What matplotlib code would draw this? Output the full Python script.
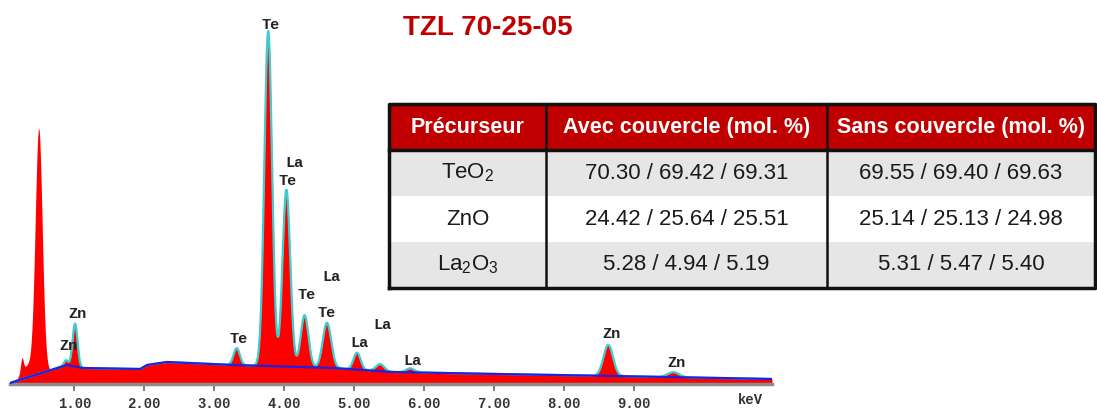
import numpy as np
import matplotlib
matplotlib.use('Agg')
import matplotlib.pyplot as plt
from matplotlib import font_manager

# continuum under the spectrum, vertices (keV, counts)
bg_kev = [0.08, 0.89, 1.12, 1.94, 2.04, 2.32, 3.27, 4.70, 5.54, 7.04, 8.70, 10.97]
bg_counts = [1, 19, 16, 15, 19, 22, 19, 16, 12, 10, 8, 5]

# emission lines: centre (keV), height above continuum (counts), width (keV)
peak_kev = [0.25, 0.33, 0.49, 0.88, 1.01, 3.32, 3.77, 4.03, 4.29, 4.61,
            5.04, 5.37, 5.80, 8.63, 9.56]
peak_counts = [14, 12, 244, 5, 43, 17, 335, 177, 52, 45, 17, 7, 4, 31, 5]
peak_sigma = [0.02, 0.08, 0.05, 0.03, 0.035, 0.045, 0.055, 0.055, 0.055, 0.06,
              0.05, 0.06, 0.06, 0.068, 0.08]
# lines covered by the fit (cyan curve)
peak_fitted = [False, False, False, True, True, True, True, True, True, True,
               True, True, True, True, True]

# element labels above the lines
label_text = ['Te', 'La', 'Te', 'La', 'Te', 'Te', 'Zn', 'Zn', 'Te', 'La', 'La', 'La', 'Zn', 'Zn']
label_kev = [3.80, 4.15, 4.05, 4.68, 4.32, 4.61, 1.04, 0.91, 3.35, 5.07, 5.40, 5.83, 8.67, 9.60]
label_counts = [359, 221, 203, 107, 89, 71, 70, 38, 45, 41, 59, 23, 50, 21]

tick_kev = [1, 2, 3, 4, 5, 6, 7, 8, 9]

# composition table
header = ['Précurseur', 'Avec couvercle (mol. %)', 'Sans couvercle (mol. %)']
precursors = ['TeO$_2$', 'ZnO', 'La$_2$O$_3$']
avec = ['70.30 / 69.42 / 69.31', '24.42 / 25.64 / 25.51', '5.28 / 4.94 / 5.19']
sans = ['69.55 / 69.40 / 69.63', '25.14 / 25.13 / 24.98', '5.31 / 5.47 / 5.40']
col_px = [157, 281, 268]

title = 'TZL 70-25-05'

installed = {f.name for f in font_manager.fontManager.ttflist}
if 'Liberation Sans Narrow' in installed:
    title_family, title_size = 'Liberation Sans Narrow', 23.5
else:
    title_family, title_size = 'Liberation Sans', 20
mono = ['Liberation Mono', 'DejaVu Sans Mono']
plt.rcParams['mathtext.default'] = 'regular'

W, H = 1097, 412
fig = plt.figure(figsize=(W / 100, H / 100), dpi=100)

# ---- spectrum ----
ax = fig.add_axes([10 / W, 28 / H, 762 / W, 384 / H])
x = np.linspace(0.08, 10.97, 3000)
cont = np.interp(x, bg_kev, bg_counts)
meas = cont.copy()
fit = cont.copy()
for c, a, s, f in zip(peak_kev, peak_counts, peak_sigma, peak_fitted):
    g = a * np.exp(-0.5 * ((x - c) / s) ** 2)
    meas += g
    if f:
        fit += g

ax.fill_between(x, 0, meas, color='#ff0000', lw=0, zorder=1)
ax.plot(x, fit, color='#40cccc', lw=1.6, zorder=2)
ax.plot(bg_kev, bg_counts, color='#2020e0', lw=1.6, zorder=3)

for t, k, c in zip(label_text, label_kev, label_counts):
    ax.text(k, c, t, ha='center', va='center', family=mono,
            weight='bold', fontsize=11, color='#222222', zorder=4)

ax.set_xlim(0.08, 10.97)
ax.set_ylim(0, 384)
ax.set_yticks([])
for side in ['top', 'left', 'right']:
    ax.spines[side].set_visible(False)
ax.spines['bottom'].set_color('#8c8c8c')
ax.spines['bottom'].set_linewidth(2.5)
ax.set_xticks(tick_kev)
ax.set_xticklabels(['%.2f' % k for k in tick_kev], family=mono,
                   weight='bold', fontsize=10, color='#333333')
ax.tick_params(axis='x', length=5, width=1.2, color='#666666', pad=4)
ax.text(10.66, -16, 'keV', ha='center', va='center', family=mono,
        weight='bold', fontsize=10, color='#333333', clip_on=False)
ax.patch.set_alpha(0)

# ---- title ----
fig.text(487.5 / W, (H - 35) / H, title, ha='center', va='baseline',
         family=title_family, weight='bold', fontsize=title_size, color='#c00000')

# ---- table ----
tax = fig.add_axes([389 / W, (H - 288) / H, 706 / W, 184 / H])
tax.axis('off')
cells = [[p, a, s] for p, a, s in zip(precursors, avec, sans)]
widths = [w / sum(col_px) for w in col_px]
tab = tax.table(cellText=cells, colLabels=header, colWidths=widths,
                cellLoc='center', bbox=[0, 0, 1, 1])
tab.auto_set_font_size(False)
for (r, c), cell in tab.get_celld().items():
    cell.set_linewidth(0)
    txt = cell.get_text()
    txt.set_family('Liberation Sans')
    if r == 0:
        cell.set_facecolor('#c00000')
        txt.set_color('white')
        txt.set_weight('bold')
        txt.set_fontsize(15.5)
    else:
        cell.set_facecolor('#e6e6e6' if r % 2 == 1 else 'white')
        txt.set_color('#1a1a1a')
        txt.set_fontsize(16)

# borders
edges = np.cumsum([0] + widths)
kw = dict(transform=tax.transAxes, color='#111111', clip_on=False, zorder=5)
tax.plot([0, 1, 1, 0, 0], [0, 0, 1, 1, 0], lw=2.5, **kw)
tax.plot([0, 1], [0.75, 0.75], lw=2.5, **kw)
for e in edges[1:-1]:
    tax.plot([e, e], [0, 1], lw=1.8, **kw)

fig.savefig('out.png', dpi=100)
